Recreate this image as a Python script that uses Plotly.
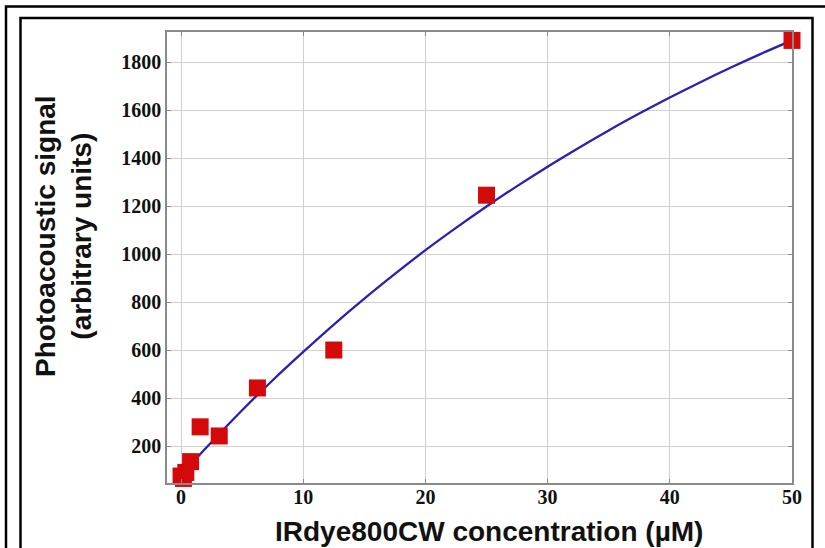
import plotly.graph_objects as go

# measured points
conc = [0, 0.195, 0.39, 0.78, 1.5625, 3.125, 6.25, 12.5, 25, 50]
signal = [75, 65, 90, 135, 280, 242, 442, 600, 1245, 1890]

# fitted curve
fit_x = [0, 2.5, 5, 7.5, 10, 12.5, 15, 17.5, 20, 22.5, 25, 27.5, 30, 32.5, 35, 37.5, 40, 42.5, 45, 47.5, 50]
fit_y = [80, 217, 349, 474, 592, 706, 814, 917, 1016, 1109, 1198, 1283, 1364, 1441, 1515, 1585, 1652, 1716, 1777, 1835, 1890]

x_ticks = [0, 10, 20, 30, 40, 50]
y_ticks = [200, 400, 600, 800, 1000, 1200, 1400, 1600, 1800]

x_title = "IRdye800CW concentration (µM)"
y_title = "Photoacoustic signal<br>(arbitrary units)"

fig = go.Figure()
fig.add_trace(go.Scatter(x=fit_x, y=fit_y, mode="lines", line=dict(color="#2a20b4", width=2.3, shape="spline"),
                         showlegend=False, hoverinfo="skip", cliponaxis=False))
fig.add_trace(go.Scatter(x=conc, y=signal, mode="markers", cliponaxis=False,
                         marker=dict(symbol="square", size=17, color="#d40a0a", line=dict(width=0)),
                         showlegend=False))

tickfont = dict(family="Liberation Serif, Times New Roman, serif", size=20, color="#111", weight="bold")
titlefont = dict(family="Liberation Sans, Arial, sans-serif", size=28, color="#111", weight="bold")

fig.update_xaxes(range=[-1.15, 50], tickvals=x_ticks, showgrid=True, gridcolor="#d0d0d0", gridwidth=1,
                 showline=True, linecolor="#8a8a8a", linewidth=1.5, mirror="ticks", ticks="inside",
                 ticklen=4, tickcolor="#8a8a8a", zeroline=False, tickfont=tickfont)
fig.update_yaxes(range=[46, 1925], tickvals=y_ticks, showgrid=True, gridcolor="#d0d0d0", gridwidth=1,
                 showline=True, linecolor="#8a8a8a", linewidth=1.5, mirror="ticks", ticks="inside",
                 ticklen=4, tickcolor="#8a8a8a", zeroline=False, tickfont=tickfont)
try:
    fig.update_xaxes(ticklabelstandoff=-5)
except (ValueError, TypeError):
    pass

W, H = 825, 548
L, R, T, B = 167, 792, 32, 483
def px(x):
    return (x - L) / (R - L)
def py(y):
    return (B - y) / (B - T)

shapes = [
    dict(type="rect", xref="paper", yref="paper", x0=px(6), x1=px(840), y0=py(6.5), y1=py(560),
         line=dict(color="black", width=2.5), fillcolor="rgba(0,0,0,0)", layer="above"),
    dict(type="rect", xref="paper", yref="paper", x0=px(20.5), x1=px(812.5), y0=py(18), y1=py(560),
         line=dict(color="black", width=2.5), fillcolor="rgba(0,0,0,0)", layer="above"),
]

annotations = [
    dict(text=x_title, xref="paper", yref="paper", x=px(489), y=py(531), xanchor="center", yanchor="middle",
         showarrow=False, font=titlefont),
    dict(text=y_title, xref="paper", yref="paper", x=px(64), y=py(236), xanchor="center", yanchor="middle",
         showarrow=False, font=titlefont, textangle=-90),
]

fig.update_layout(width=W, height=H, margin=dict(l=L, r=W - R, t=T, b=H - B, autoexpand=False),
                  plot_bgcolor="white", paper_bgcolor="white", shapes=shapes, annotations=annotations)

fig.write_html("out.html", config={"displayModeBar": False},
               post_script="document.body.style.margin='0px';document.body.style.overflow='hidden';")
